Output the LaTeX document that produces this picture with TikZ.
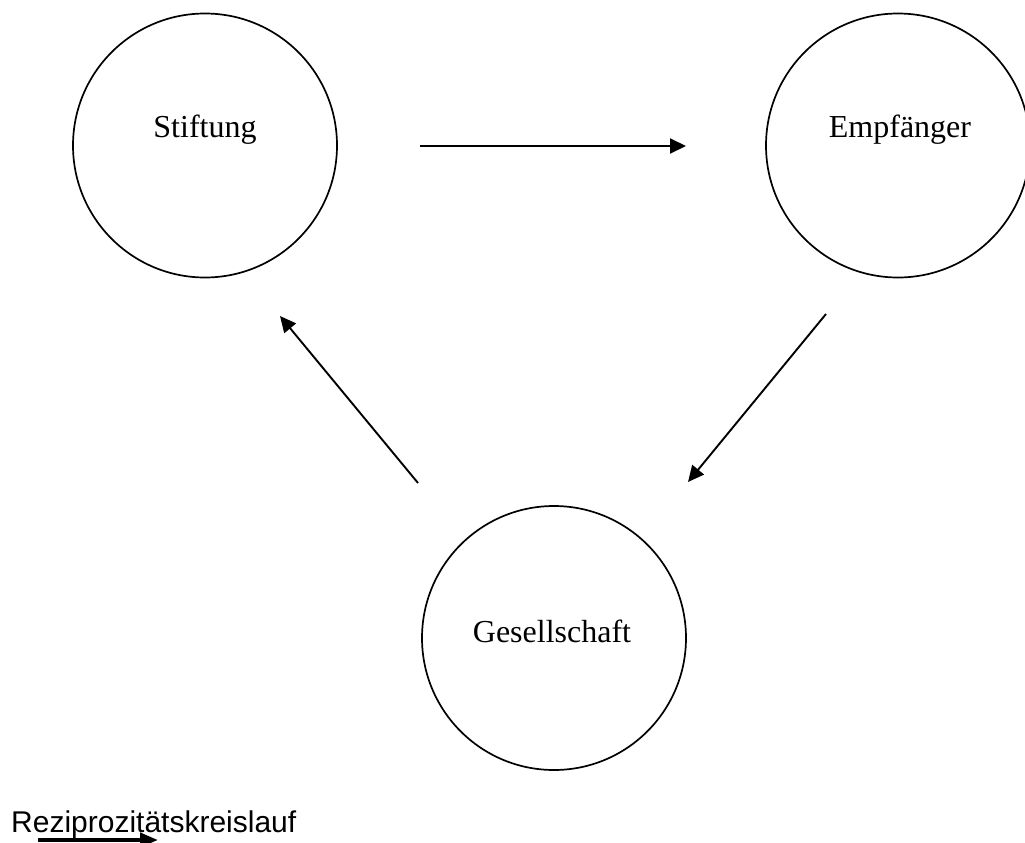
\documentclass[tikz,border=0pt]{standalone}
\usepackage{fontspec}
\setmainfont{Liberation Serif}
\newfontfamily\legendfont{Liberation Sans}
\usetikzlibrary{arrows.meta}
\begin{document}
\begin{tikzpicture}[x=1pt,y=-1pt,
  ring/.style={draw=black,line width=1.7pt,circle,minimum size=264pt,inner sep=0pt},
  lbl/.style={font=\fontsize{32}{36}\selectfont,anchor=base,inner sep=0pt},
  flow/.style={draw=black,line width=1.9pt,-{Triangle[length=16pt,width=15pt]}},
  legendarrow/.style={draw=black,line width=4pt,-{Triangle[length=18pt,width=14pt]}}]
\useasboundingbox (0,0) rectangle (1025,843);
\begin{scope}
\clip (0,0) rectangle (1025,843);
\node[ring] (stiftung) at (205,145.5) {};
\node[ring] (empf) at (898,145.5) {};
\node[ring] (ges) at (554,638) {};
\end{scope}
\node[lbl] (tS) at (205,137) {Stiftung};
\node[lbl] (tE) at (900,137) {Empfänger};
\node[lbl] (tG) at (552,642) {Gesellschaft};
\coordinate (a1s) at (420,146);
\coordinate (a1e) at (686,146);
\coordinate (a2s) at (826,314);
\coordinate (a2e) at (688,482);
\coordinate (a3s) at (418,483);
\coordinate (a3e) at (280,316);
\draw[flow] (a1s) -- (a1e);
\draw[flow] (a2s) -- (a2e);
\draw[flow] (a3s) -- (a3e);
\node[font=\legendfont\fontsize{30}{34}\selectfont,anchor=base west,inner sep=0pt] (legend) at (11,832) {Reziprozitätskreislauf};
\coordinate (l1) at (38,840);
\coordinate (l2) at (158,840);
\begin{scope}
\clip (0,0) rectangle (1025,843);
\draw[legendarrow] (l1) -- (l2);
\end{scope}
\end{tikzpicture}
\end{document}
